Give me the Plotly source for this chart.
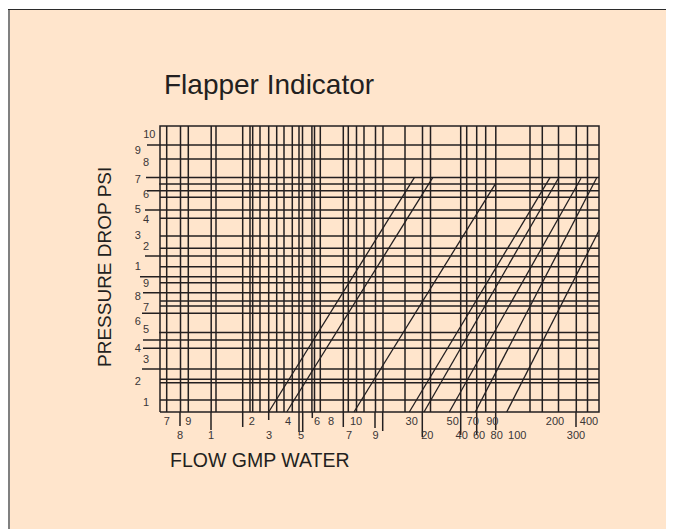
import plotly.graph_objects as go

# Chart units: x measured from the frame's left edge, y measured up from the frame's bottom edge
frame_w = 439
frame_h = 286

# vertical grid lines (x positions)
v_grid_x = [6.7, 20.5, 28.3, 51.2, 56, 82.7, 90, 92.7, 100, 108.7, 116.7, 124, 132.3, 139, 142.5,
            151.9, 154.5, 160.3, 183.3, 188.3, 196.5, 204, 215.5, 223, 245, 262.5, 270.5, 300.7,
            306.7, 316.7, 325.7, 335.8, 370, 382.3, 398.5, 416.3, 427.5]

# vertical lines that continue below the frame as ticks (x position, lower end)
tick_x = [20, 51, 82.7, 108.7, 139, 142.7, 152.3, 183.3, 215, 222.7, 262.3, 300.7, 316.7, 335.7, 416]
tick_end = [-14, -18, -15, -8, -20, -20, -6, -15, -16, -19, -25, -23, -23, -18, -15]

# horizontal grid lines (y position, left start)
h_grid_y = [267, 253, 234.5, 228, 221.3, 214.7, 202, 193.7, 176, 163.7, 156, 145.3, 135.3, 129.3,
            119.3, 111, 106, 98.7, 79.5, 72, 63.7, 43, 32.7, 29.3, 12]
h_grid_start = [-13, 0, -14, -1, -13, 0, -15, 0, 0, 0, -15, 0, -20, 0, -17, 0, 0, -18, -1, -17,
                -17, -18, 0, 0, 0]

# diagonal flow curves
curve_x0 = [108.7, 126.7, 194, 249.3, 264, 289.3, 315.3, 346.7]
curve_y0 = [0, 0, 0, 0, 0, 0, 0, 0]
curve_x1 = [254.3, 272.7, 335.7, 390, 399.3, 421, 436.7, 439.3]
curve_y1 = [234.3, 234.3, 228.7, 234.3, 235.3, 233.7, 234.3, 182]

# pressure labels (text, x, y)
p_labels = ["10", "9", "8", "7", "6", "5", "4", "3", "2", "1",
            "9", "8", "7", "6", "5", "4", "3", "2", "1"]
p_label_x = [-10.7, -22.3, -14, -22.3, -14, -22.3, -14, -22.3, -14, -22.3,
             -14, -22.3, -14, -22.3, -14, -22.3, -14, -22.3, -14]
p_label_y = [277, 261, 248.7, 232, 216.3, 202, 191.3, 176, 164.7, 144.7,
             128, 114.3, 104, 90, 82, 63, 52, 30, 8.7]

# flow labels (text, x, y)
f_labels = ["7", "9", "2", "4", "6", "8", "10", "30", "50", "70", "90", "200", "400",
            "8", "1", "3", "5", "7", "9", "20", "40", "60", "80", "100", "300"]
f_label_x = [6.7, 28.3, 91.7, 128, 157, 171, 196, 251.7, 292.7, 312.7, 332.3, 395, 429,
             20, 51, 109, 141, 189, 215.6, 267.3, 301.7, 319, 336.7, 357.3, 416]
f_label_y = [-10.3] * 13 + [-24.7] * 12

ink = "#231f20"
label_col = "#3a3536"

fig = go.Figure()

# frame
fig.add_trace(go.Scatter(x=[0, frame_w, frame_w, 0, 0], y=[0, 0, frame_h, frame_h, 0],
                         mode="lines", line=dict(color=ink, width=1.5), hoverinfo="skip"))

# vertical grid
vx, vy = [], []
for x in v_grid_x:
    vx += [x, x, None]
    vy += [0, frame_h, None]
for x, e in zip(tick_x, tick_end):
    vx += [x, x, None]
    vy += [e, 0, None]
fig.add_trace(go.Scatter(x=vx, y=vy, mode="lines", line=dict(color=ink, width=1.5), hoverinfo="skip"))

# horizontal grid
hx, hy = [], []
for y, s in zip(h_grid_y, h_grid_start):
    hx += [s, frame_w, None]
    hy += [y, y, None]
fig.add_trace(go.Scatter(x=hx, y=hy, mode="lines", line=dict(color=ink, width=1.5), hoverinfo="skip"))

# curves
cx, cy = [], []
for a, b, c, d in zip(curve_x0, curve_y0, curve_x1, curve_y1):
    cx += [a, c, None]
    cy += [b, d, None]
fig.add_trace(go.Scatter(x=cx, y=cy, mode="lines", line=dict(color=ink, width=1.3), hoverinfo="skip"))

# labels
fig.add_trace(go.Scatter(x=p_label_x, y=p_label_y, text=p_labels, mode="text",
                         textfont=dict(family="Liberation Sans, Arial", size=11, color=label_col),
                         hoverinfo="skip"))
fig.add_trace(go.Scatter(x=f_label_x, y=f_label_y, text=f_labels, mode="text",
                         textfont=dict(family="Liberation Sans, Arial", size=11, color=label_col),
                         hoverinfo="skip"))

fig.add_annotation(x=1.5, y=328, text="Flapper Indicator", showarrow=False, xanchor="left",
                   yanchor="middle", font=dict(family="Liberation Sans, Arial", size=28, color=ink))
fig.add_annotation(x=8, y=-48, text="FLOW GMP WATER", showarrow=False, xanchor="left",
                   yanchor="middle", font=dict(family="Liberation Sans, Arial", size=19.5, color=ink))
fig.add_annotation(x=-56, y=145, text="PRESSURE DROP PSI", showarrow=False, textangle=-90,
                   xanchor="center", yanchor="middle",
                   font=dict(family="Liberation Sans, Arial", size=19, color=ink))

fig.update_layout(
    width=666, height=521,
    margin=dict(l=2, r=0, t=2, b=0),
    paper_bgcolor="white", plot_bgcolor="#FFE5CC",
    showlegend=False,
    xaxis=dict(range=[-150, 514], showgrid=False, zeroline=False, showticklabels=False,
               ticks="", showline=True, side="top", linecolor="#2b2b2b", linewidth=1, fixedrange=True),
    yaxis=dict(range=[-117, 402], showgrid=False, zeroline=False, showticklabels=False,
               ticks="", showline=True, linecolor="#808080", linewidth=1.5, fixedrange=True),
)

fig.write_html("out.html",
               post_script="document.documentElement.style.overflow='hidden';"
                           "document.body.style.overflow='hidden';")
